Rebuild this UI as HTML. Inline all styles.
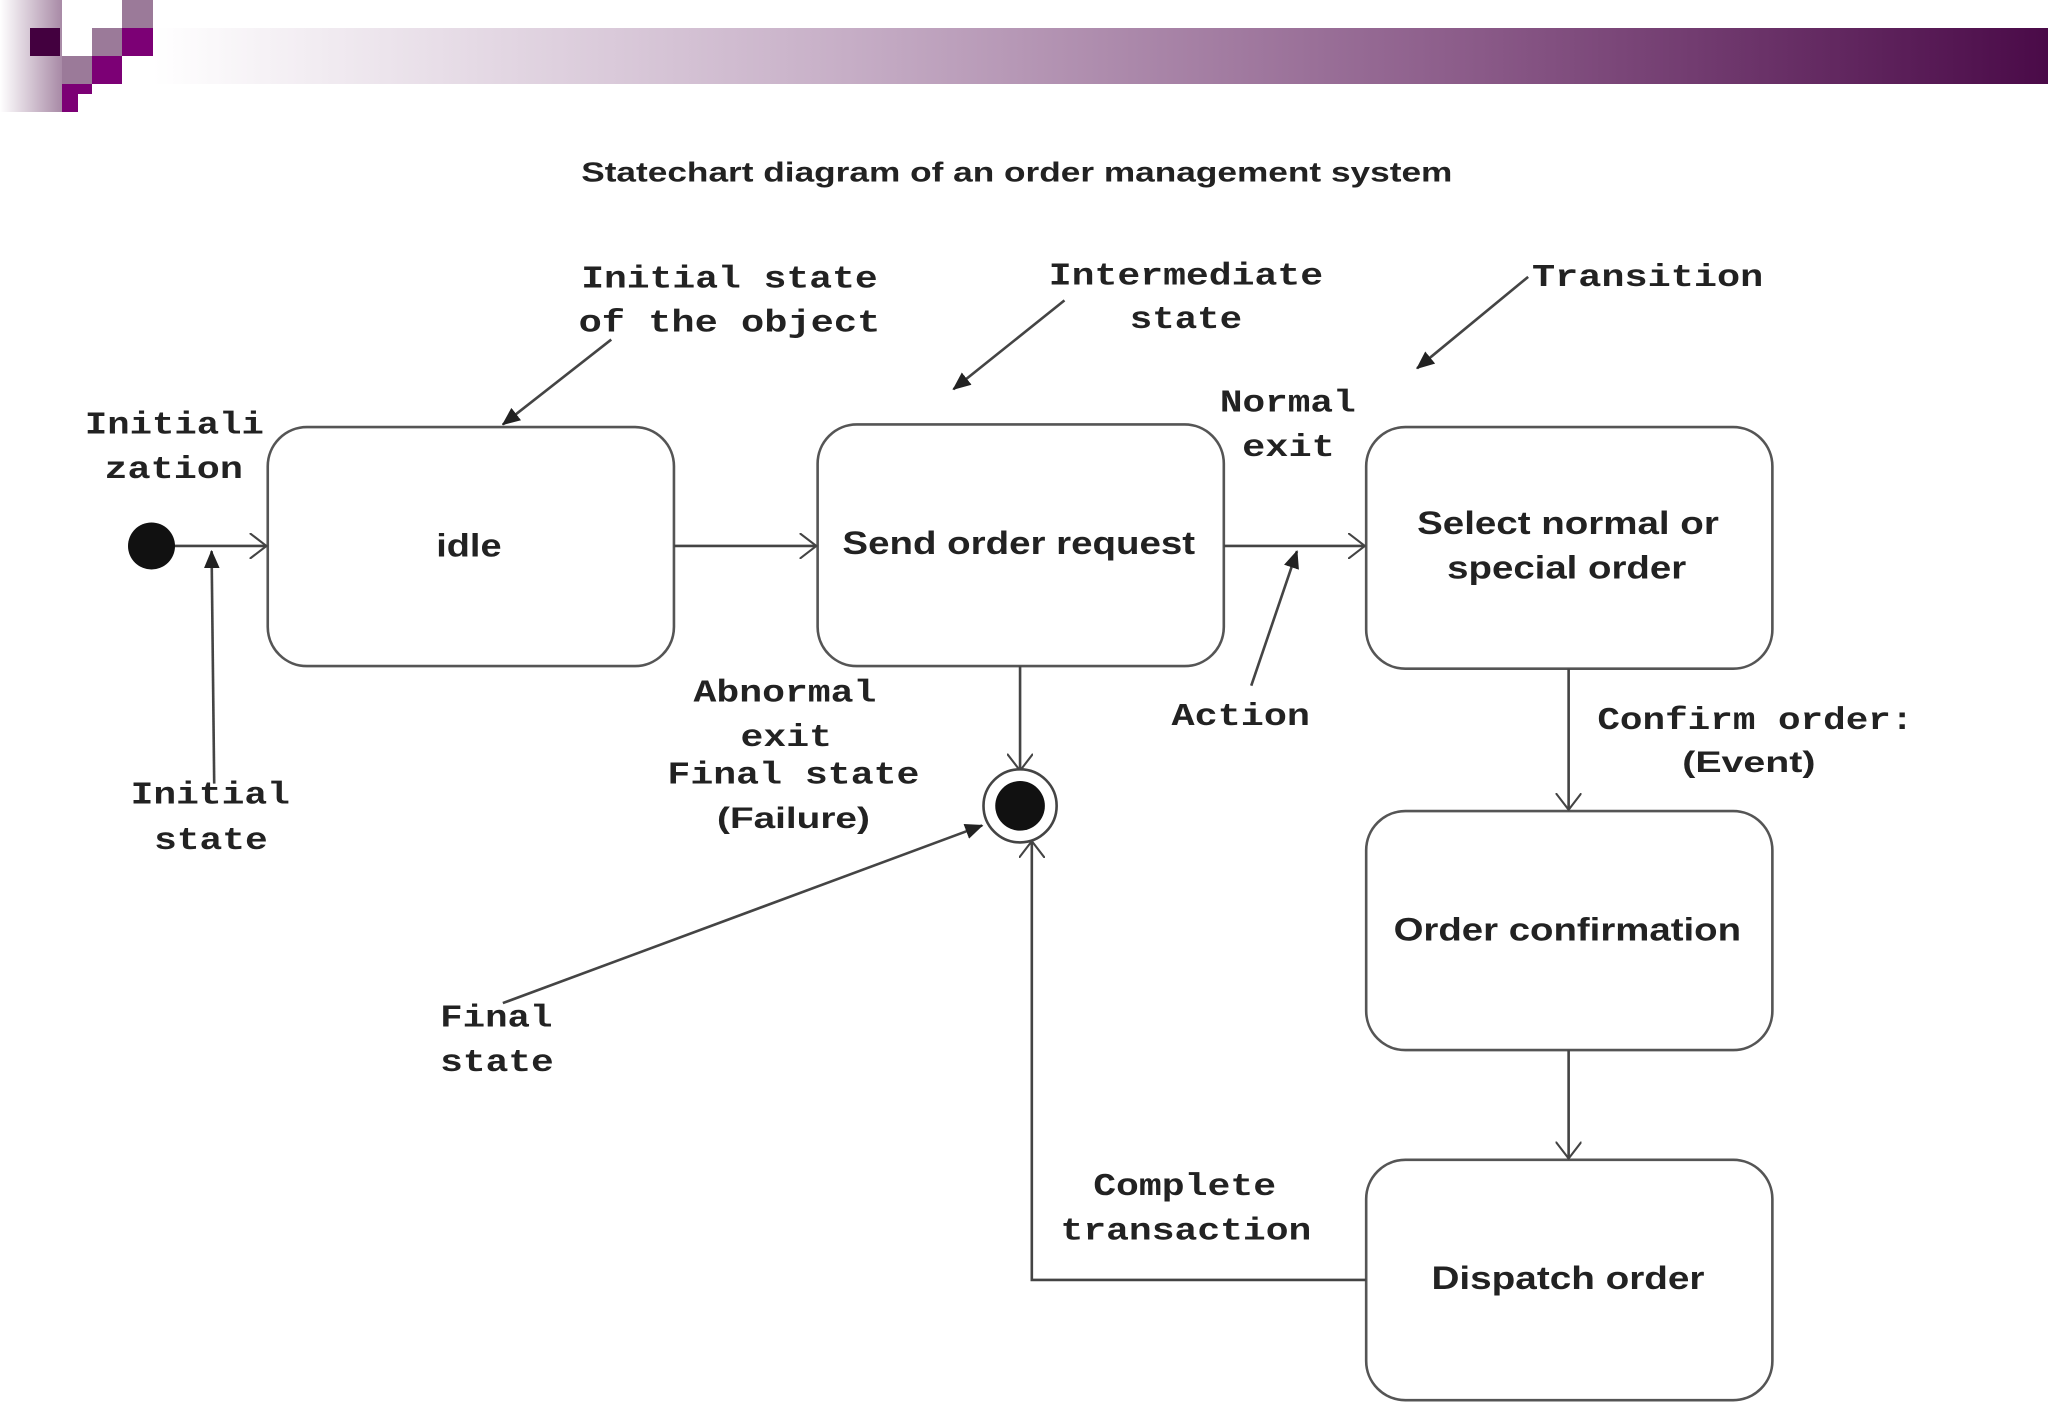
<!DOCTYPE html>
<html><head><meta charset="utf-8"><style>html,body{margin:0;padding:0;background:#fff}svg{display:block}</style></head>
<body>
<svg width="2048" height="1418" viewBox="0 0 2048 1418" xmlns="http://www.w3.org/2000/svg">
<defs>
<linearGradient id="bar" x1="0" x2="1" y1="0" y2="0">
<stop offset="0" stop-color="#fff"/><stop offset="0.35" stop-color="#c9b2c9"/><stop offset="0.7" stop-color="#8a5a88"/><stop offset="1" stop-color="#4a0a48"/></linearGradient>
<linearGradient id="side" x1="0" x2="1"><stop offset="0" stop-color="#fff"/><stop offset="1" stop-color="#a88aa6"/></linearGradient>
<marker id="oa" markerWidth="14" markerHeight="20" refX="13" refY="10" orient="auto" markerUnits="userSpaceOnUse"><path d="M0,0 L13,10 L0,20" fill="none" stroke="#444" stroke-width="1.6"/></marker>
<marker id="fa" markerWidth="14" markerHeight="12" refX="13" refY="6" orient="auto" markerUnits="userSpaceOnUse"><path d="M0,0 L14,6 L0,12z" fill="#222"/></marker>
</defs>
<rect x="0" y="0" width="62" height="112" fill="url(#side)"/>
<rect x="153" y="28" width="1895" height="56" fill="url(#bar)"/>
<rect x="30" y="28" width="30" height="28" fill="#43003f"/>
<rect x="92" y="28" width="30" height="28" fill="#9b7a99"/>
<rect x="122" y="0" width="31" height="28" fill="#9b7a99"/>
<rect x="122" y="28" width="31" height="28" fill="#7c0075"/>
<rect x="62" y="56" width="30" height="28" fill="#9b7a99"/>
<rect x="92" y="56" width="30" height="28" fill="#7c0075"/>
<path d="M62,84 H92 V94 H78 V112 H62z" fill="#7c0075"/>
<g transform="scale(1.3061)" font-family="Liberation Mono, monospace" font-weight="bold" font-size="24" fill="#222">
<text x="445" y="139" font-family="Liberation Sans, sans-serif" font-size="21" textLength="667" lengthAdjust="spacingAndGlyphs">Statechart diagram of an order management system</text>
<g fill="#fff" stroke="#555" stroke-width="2">
<rect x="205" y="327" width="311" height="183" rx="30"/>
<rect x="626" y="325" width="311" height="185" rx="30"/>
<rect x="1046" y="327" width="311" height="185" rx="30"/>
<rect x="1046" y="621" width="311" height="183" rx="30"/>
<rect x="1046" y="888" width="311" height="184" rx="30"/>
</g>
<g font-family="Liberation Sans, sans-serif" font-size="25">
<text x="334" y="426" textLength="50" lengthAdjust="spacingAndGlyphs">idle</text>
<text x="645" y="424" textLength="270" lengthAdjust="spacingAndGlyphs">Send order request</text>
<text x="1085" y="409" textLength="231" lengthAdjust="spacingAndGlyphs">Select normal or</text>
<text x="1108" y="443" textLength="183" lengthAdjust="spacingAndGlyphs">special order</text>
<text x="1067" y="720" textLength="266" lengthAdjust="spacingAndGlyphs">Order confirmation</text>
<text x="1096" y="987" textLength="209" lengthAdjust="spacingAndGlyphs">Dispatch order</text>
<text x="1288" y="591" font-size="23" textLength="102" lengthAdjust="spacingAndGlyphs">(Event)</text>
<text x="549" y="634" font-size="23" textLength="117" lengthAdjust="spacingAndGlyphs">(Failure)</text>
</g>
<g stroke="#444" stroke-width="2" fill="none">
<line x1="130" y1="418" x2="204" y2="418" marker-end="url(#oa)"/>
<line x1="516" y1="418" x2="625" y2="418" marker-end="url(#oa)"/>
<line x1="937" y1="418" x2="1045" y2="418" marker-end="url(#oa)"/>
<line x1="781" y1="510" x2="781" y2="590" marker-end="url(#oa)"/>
<line x1="1201" y1="512" x2="1201" y2="620" marker-end="url(#oa)"/>
<line x1="1201" y1="804" x2="1201" y2="887" marker-end="url(#oa)"/>
<polyline points="1046,980 790,980 790,644" marker-end="url(#oa)"/>
<line x1="164" y1="600" x2="162" y2="422" marker-end="url(#fa)"/>
<line x1="468" y1="260" x2="385" y2="325" marker-end="url(#fa)"/>
<line x1="815" y1="230" x2="730" y2="298" marker-end="url(#fa)"/>
<line x1="1170" y1="212" x2="1085" y2="282" marker-end="url(#fa)"/>
<line x1="958" y1="525" x2="993" y2="422" marker-end="url(#fa)"/>
<line x1="385" y1="768" x2="752" y2="632" marker-end="url(#fa)"/>
</g>
<circle cx="116" cy="418" r="18" fill="#111"/>
<circle cx="781" cy="617" r="28" fill="#fff" stroke="#444" stroke-width="2"/>
<circle cx="781" cy="617" r="19" fill="#111"/>
<text x="445" y="220" textLength="227" lengthAdjust="spacingAndGlyphs">Initial state</text>
<text x="443" y="254" textLength="231" lengthAdjust="spacingAndGlyphs">of the object</text>
<text x="803" y="218" textLength="210" lengthAdjust="spacingAndGlyphs">Intermediate</text>
<text x="865" y="251" textLength="86" lengthAdjust="spacingAndGlyphs">state</text>
<text x="1173" y="219" textLength="177" lengthAdjust="spacingAndGlyphs">Transition</text>
<text x="65" y="332" textLength="137" lengthAdjust="spacingAndGlyphs">Initiali</text>
<text x="80" y="366" textLength="106" lengthAdjust="spacingAndGlyphs">zation</text>
<text x="934" y="315" textLength="104" lengthAdjust="spacingAndGlyphs">Normal</text>
<text x="951" y="349" textLength="71" lengthAdjust="spacingAndGlyphs">exit</text>
<text x="531" y="537" textLength="140" lengthAdjust="spacingAndGlyphs">Abnormal</text>
<text x="567" y="571" textLength="70" lengthAdjust="spacingAndGlyphs">exit</text>
<text x="511" y="600" textLength="193" lengthAdjust="spacingAndGlyphs">Final state</text>
<text x="897" y="555" textLength="106" lengthAdjust="spacingAndGlyphs">Action</text>
<text x="1223" y="558" textLength="242" lengthAdjust="spacingAndGlyphs">Confirm order:</text>
<text x="100" y="615" textLength="122" lengthAdjust="spacingAndGlyphs">Initial</text>
<text x="118" y="650" textLength="87" lengthAdjust="spacingAndGlyphs">state</text>
<text x="337" y="786" textLength="86" lengthAdjust="spacingAndGlyphs">Final</text>
<text x="337" y="820" textLength="87" lengthAdjust="spacingAndGlyphs">state</text>
<text x="837" y="915" textLength="140" lengthAdjust="spacingAndGlyphs">Complete</text>
<text x="812" y="949" textLength="192" lengthAdjust="spacingAndGlyphs">transaction</text>
</g>
</svg>
</body></html>
